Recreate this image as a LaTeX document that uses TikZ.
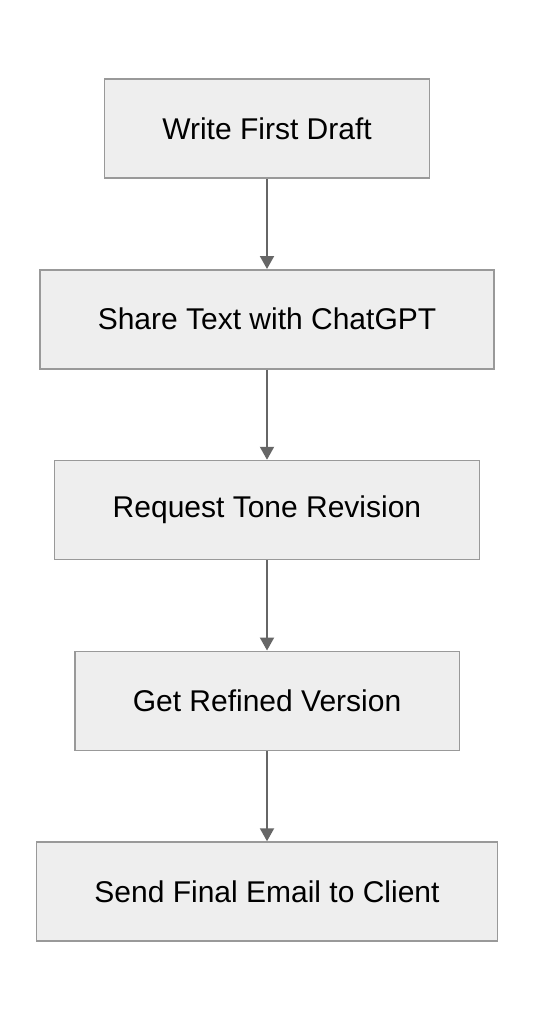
\documentclass[tikz,border=0pt]{standalone}
\usepackage{fontspec}
\setmainfont{Liberation Sans}
\usepackage{tikz}
\usetikzlibrary{positioning,arrows.meta}
\definecolor{boxfill}{HTML}{EEEEEE}
\definecolor{boxline}{HTML}{999999}
\definecolor{arrowline}{HTML}{666666}

\begin{document}
\begin{tikzpicture}[%
    x=1pt,y=1pt,
    ->,>={Triangle[width=14pt,length=13pt]},node distance=90.25pt,
    stepbox/.style={%
      rectangle,draw=boxline,line width=1.5pt,fill=boxfill,
      minimum height=99pt,inner xsep=58pt,
      font=\fontsize{30}{36}\selectfont},
    flow/.style={draw=arrowline,line width=2pt}
  ]
    \useasboundingbox (0,0) rectangle (534,-1020);
    \node[stepbox] (draft) at (267,-128.5)        {Write First Draft};
    \node[stepbox] (share)   [below=of draft]     {Share Text with ChatGPT};
    \node[stepbox] (tone)    [below=of share]     {Request Tone Revision};
    \node[stepbox] (refined) [below=of tone]      {Get Refined Version};
    \node[stepbox] (send)    [below=of refined]   {Send Final Email to Client};
    \path (draft)   edge [flow] (share)
          (share)   edge [flow] (tone)
          (tone)    edge [flow] (refined)
          (refined) edge [flow] (send)
          ;
  \end{tikzpicture}
\end{document}
